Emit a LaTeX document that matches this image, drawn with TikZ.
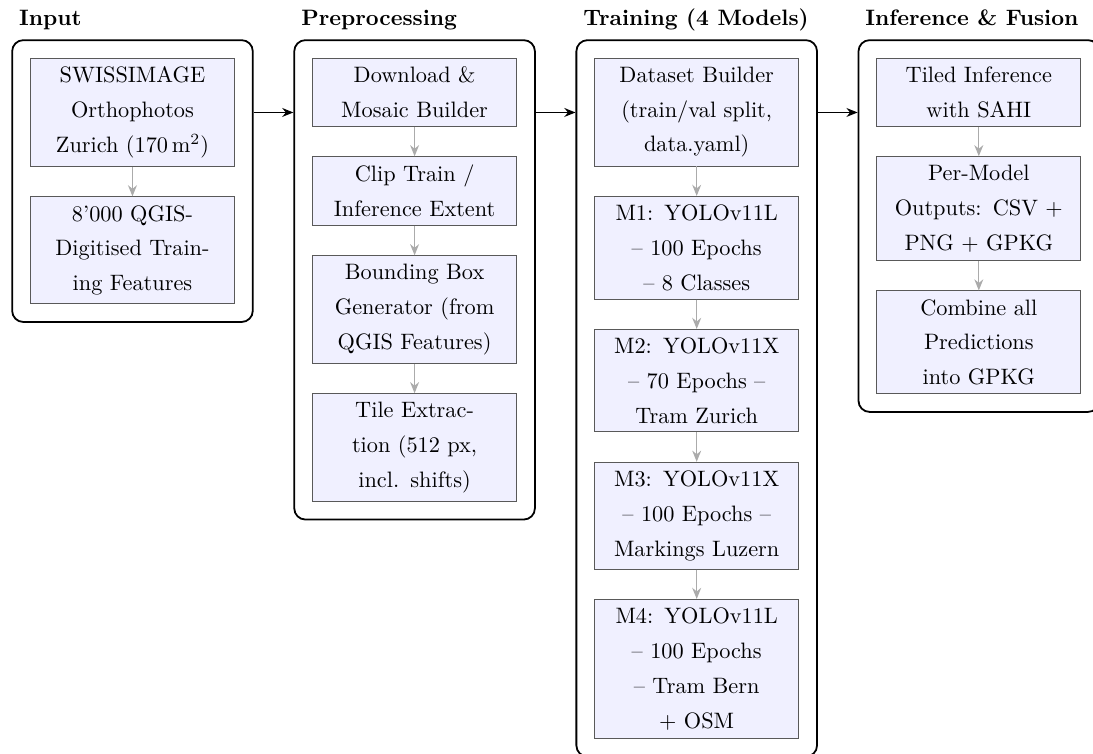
\documentclass[tikz,border=0pt]{standalone}
\usepackage{amsmath}
\usepackage{tikz}
\usetikzlibrary{positioning,fit,arrows.meta}
\tikzset{>={Stealth[length=5pt,width=4pt]}}
\colorlet{boxfill}{blue!6}
\colorlet{boxline}{black!65}
\colorlet{stepgray}{black!33}

\begin{document}
\begin{tikzpicture}[
  node distance=13.2pt,
  BOX/.style={draw=boxline, fill=boxfill, text width=77pt, align=center,
              inner xsep=7.25pt, inner ysep=3.8pt,
              font=\linespread{1.3}\selectfont},
  GRP/.style={draw, thick, rounded corners=5pt, inner sep=8pt},
  TTL/.style={anchor=base west, font=\bfseries},
  STP/.style={->, semithick, stepgray},
  FLW/.style={->, semithick}
]
\useasboundingbox (-59.4pt,26pt) rectangle (430.7pt,-311.7pt);
\clip (-59.4pt,26pt) rectangle (430.7pt,-311.7pt);

% input column
\node[BOX, anchor=north] (swiss) at (0,0)
  {SWISSIMAGE Orthophotos Zurich ($170\,\mathrm{m}^2$)};
\node[BOX, below=of swiss] (feat)
  {8'000 QGIS-\\Digitised Train-\\ing Features};

% preprocessing column
\node[BOX, anchor=north] (dl) at (126.5pt,0) {Download \& Mosaic Builder};
\node[BOX, below=of dl] (clip) {Clip Train / Inference Extent};
\node[BOX, below=of clip] (bbox) {Bounding Box Generator (from QGIS Features)};
\node[BOX, below=of bbox] (tile) {Tile Extraction (512 px, incl. shifts)};

% training column
\node[BOX, anchor=north] (data) at (253pt,0)
  {Dataset Builder (train/val split, data.yaml)};
\node[BOX, below=of data] (mone) {M1: YOLOv11L -- 100 Epochs -- 8 Classes};
\node[BOX, below=of mone] (mtwo) {M2: YOLOv11X -- 70 Epochs -- Tram Zurich};
\node[BOX, below=of mtwo] (mthree) {M3: YOLOv11X -- 100 Epochs -- Markings Luzern};
\node[BOX, below=of mthree] (mfour) {M4: YOLOv11L -- 100 Epochs -- Tram Bern + OSM};

% inference column
\node[BOX, anchor=north] (sahi) at (379.5pt,0) {Tiled Inference with SAHI};
\node[BOX, below=of sahi] (outp) {Per-Model Outputs: CSV + PNG + GPKG};
\node[BOX, below=of outp] (comb) {Combine all Predictions into GPKG};

% groups
\node[GRP, fit=(swiss) (feat)] (gin) {};
\node[GRP, fit=(dl) (tile)] (gpre) {};
\node[GRP, fit=(data) (mfour)] (gtrain) {};
\node[GRP, fit=(sahi) (comb)] (ginf) {};

\node[TTL] (tin) at ([yshift=6.3pt]gin.north west) {Input};
\node[TTL] (tpre) at ([yshift=6.3pt]gpre.north west) {Preprocessing};
\node[TTL] (ttrain) at ([yshift=6.3pt]gtrain.north west) {Training (4 Models)};
\node[TTL] (tinf) at ([yshift=6.3pt]ginf.north west) {Inference \& Fusion};

% steps
\draw[STP] (swiss) -- (feat);
\draw[STP] (dl) -- (clip);
\draw[STP] (clip) -- (bbox);
\draw[STP] (bbox) -- (tile);
\draw[STP] (data) -- (mone);
\draw[STP] (mone) -- (mtwo);
\draw[STP] (mtwo) -- (mthree);
\draw[STP] (mthree) -- (mfour);
\draw[STP] (sahi) -- (outp);
\draw[STP] (outp) -- (comb);

% flow between groups
\draw[FLW] (gin.east |- swiss) -- (gpre.west |- swiss);
\draw[FLW] (gpre.east |- swiss) -- (gtrain.west |- swiss);
\draw[FLW] (gtrain.east |- swiss) -- (ginf.west |- swiss);
\end{tikzpicture}
\end{document}
